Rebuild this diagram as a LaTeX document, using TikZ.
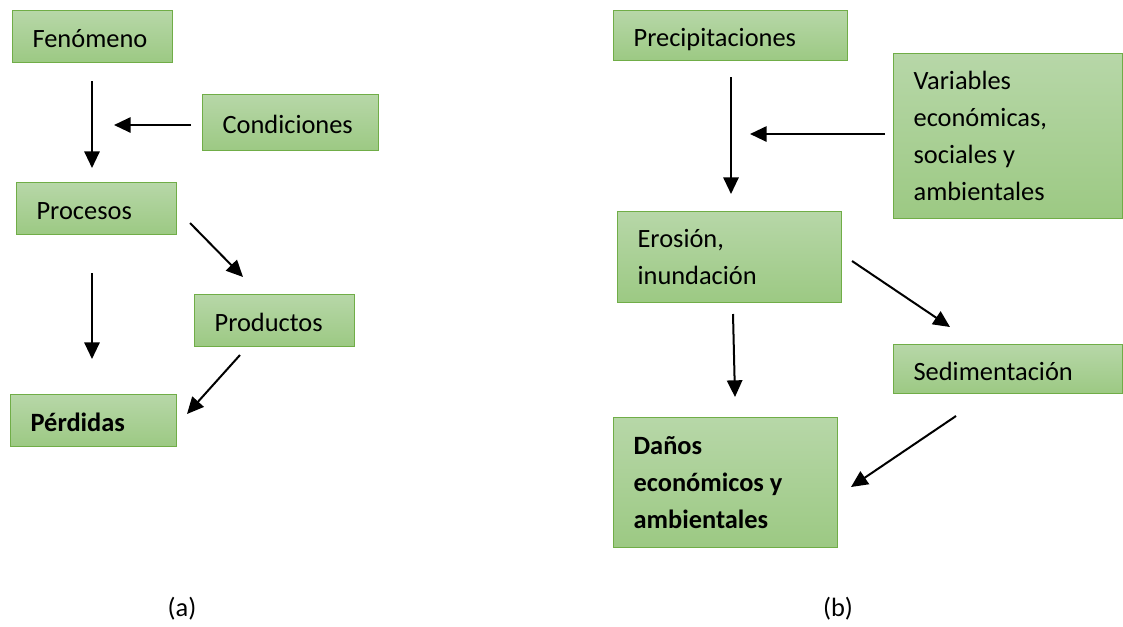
\documentclass[tikz,border=0pt]{standalone}
\usepackage{fontspec}
\setmainfont{Carlito}
\usetikzlibrary{arrows.meta}

\definecolor{gtop}{RGB}{183,215,168}
\definecolor{gbot}{RGB}{156,201,131}
\definecolor{gline}{RGB}{112,173,71}

% green box: [extra keys], name, x1, y1, x2, y2 (pixel grid), text
\newcommand\greenbox[7][]{%
  \pgfmathsetmacro\gbW{(#5-#3)*0.75}%
  \pgfmathsetmacro\gbH{(#6-#4)*0.75}%
  \pgfmathsetmacro\gbT{(#5-#3-40)*0.75}%
  \node[gbox, minimum width=\gbW pt, minimum height=\gbH pt, text width=\gbT pt, #1] (#2) at (#3,#4) {#7};}

\begin{document}
\begin{tikzpicture}[x=0.75pt, y=-0.75pt,
  gbox/.style={draw=gline, line width=0.9pt, top color=gtop, bottom color=gbot,
    anchor=north west, inner xsep=15pt, inner ysep=2pt, align=flush left,
    font=\fontsize{19.8pt}{27.75pt}\selectfont},
  oneline/.style={text height=17pt, text depth=0pt},
  flow/.style={line width=1.5pt, -{Triangle[length=12.5pt, width=11.5pt]}},
  caption/.style={font=\fontsize{19.8pt}{24pt}\selectfont}]
\useasboundingbox (0,0) rectangle (1123,626);

% (a)
\greenbox[oneline]{fen}{12}{10}{172}{62}{Fenómeno}
\greenbox[oneline]{cond}{202}{94}{378}{150}{Condiciones}
\greenbox[oneline]{proc}{16}{182}{176}{234}{Procesos}
\greenbox[oneline]{prod}{194}{294}{354}{346}{Productos}
\greenbox[oneline]{perd}{10}{394}{176}{446}{\textbf{Pérdidas}}

\coordinate (a1s) at (92,81);   \coordinate (a1e) at (92,168);
\coordinate (a2s) at (191,125); \coordinate (a2e) at (114,125);
\coordinate (a3s) at (92,273);  \coordinate (a3e) at (92,359);
\coordinate (a4s) at (190,223); \coordinate (a4e) at (243,277);
\coordinate (a5s) at (240,355); \coordinate (a5e) at (187,414);
\draw[flow] (a1s) -- (a1e);
\draw[flow] (a2s) -- (a2e);
\draw[flow] (a3s) -- (a3e);
\draw[flow] (a4s) -- (a4e);
\draw[flow] (a5s) -- (a5e);

\node[caption] (capa) at (182,609) {(a)};

% (b)
\greenbox[oneline]{prec}{613}{10}{847}{60}{Precipitaciones}
\greenbox{vars}{893}{53}{1122}{218}{Variables\\económicas,\\sociales y\\ambientales}
\greenbox{eros}{617}{211}{841}{302}{Erosión,\\inundación}
\greenbox[oneline]{sedi}{893}{344}{1122}{393}{Sedimentación}
\greenbox{dano}{613}{417}{837}{547}{\textbf{Daños}\\\textbf{económicos y}\\\textbf{ambientales}}

\coordinate (b1s) at (731,77);  \coordinate (b1e) at (731,194);
\coordinate (b2s) at (885,134); \coordinate (b2e) at (750,134);
\coordinate (b3s) at (733,314); \coordinate (b3e) at (735,397);
\coordinate (b4s) at (852,261); \coordinate (b4e) at (950,327);
\coordinate (b5s) at (956,416); \coordinate (b5e) at (851,487);
\draw[flow] (b1s) -- (b1e);
\draw[flow] (b2s) -- (b2e);
\draw[flow] (b3s) -- (b3e);
\draw[flow] (b4s) -- (b4e);
\draw[flow] (b5s) -- (b5e);

\node[caption] (capb) at (838,609) {(b)};
\end{tikzpicture}
\end{document}
